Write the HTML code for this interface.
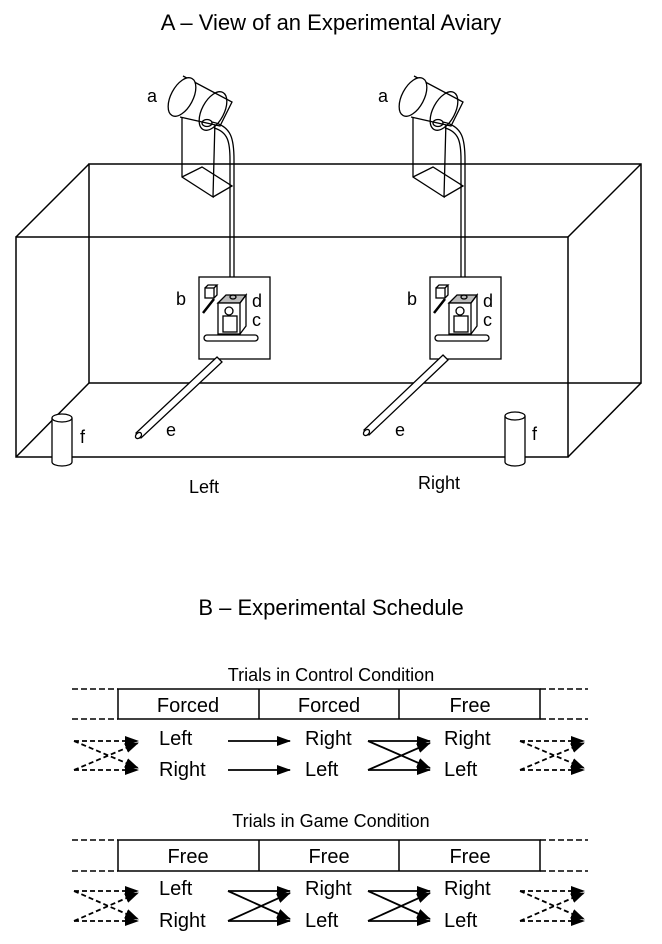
<!DOCTYPE html>
<html><head><meta charset="utf-8"><style>body{margin:0;background:#fff}svg{display:block}text{font-family:"Liberation Sans",sans-serif;fill:#000}</style></head><body>
<svg width="662" height="944" viewBox="0 0 662 944" xmlns="http://www.w3.org/2000/svg">
<defs>
<marker id="ah" markerWidth="14" markerHeight="10" refX="13" refY="5" orient="auto" markerUnits="userSpaceOnUse"><path d="M0,0 L14,5 L0,10 Z" fill="#000"/></marker>
<g id="feeder" fill="none" stroke="#000" stroke-width="1.3">
<path d="M182,117 L182,177 L213,197 L215,120"/>
<path d="M182,177 L202,167 L232,186 L213,197"/>
<path d="M183,76 L232,102 L220,126 L180,117" fill="#fff"/>
<ellipse cx="182" cy="97" rx="11" ry="21" transform="rotate(28 182 97)" fill="#fff"/>
<ellipse cx="213" cy="111" rx="11" ry="21" transform="rotate(28 213 111)"/>
<path d="M212,122 C232,126 234,140 234,160 L234,297"/>
<path d="M214,128 C228,132 230,142 230,160 L230,297"/>
<ellipse cx="207" cy="123" rx="5" ry="3.5"/>
<rect x="199" y="277" width="71" height="82" fill="#fff"/>
<path d="M218,303 L226,295 L246,295 L240,303 Z" fill="#bbb"/>
<path d="M240,303 L246,295 L246,326 L240,334"/>
<rect x="218" y="303" width="22" height="31" fill="#fff"/>
<circle cx="229" cy="311" r="4"/>
<rect x="223" y="316" width="14" height="16"/>
<ellipse cx="233" cy="297" rx="3" ry="2"/>
<rect x="204" y="335" width="54" height="6" rx="3" fill="#fff"/>
<rect x="205" y="288" width="9" height="10"/>
<path d="M205,288 L208,285 L217,285 L214,288 M214,298 L217,295 L217,285"/>
<line x1="214" y1="299" x2="203" y2="313" stroke-width="2.5"/>
</g>
</defs>
<text x="331" y="30" font-size="22" text-anchor="middle">A – View of an Experimental Aviary</text>
<g fill="none" stroke="#000" stroke-width="1.5">
<rect x="89" y="164" width="552" height="219"/>
<rect x="16" y="237" width="552" height="220"/>
<line x1="16" y1="237" x2="89" y2="164"/><line x1="568" y1="237" x2="641" y2="164"/>
<line x1="16" y1="457" x2="89" y2="383"/><line x1="568" y1="457" x2="641" y2="383"/>
</g>
<use href="#feeder"/>
<use href="#feeder" transform="translate(231,0)"/>
<g fill="#fff" stroke="#000" stroke-width="1.3">
<path d="M217,357 L222,362 L141,438 L136,433 Z"/>
<ellipse cx="138.5" cy="435.5" rx="3.5" ry="2.5" transform="rotate(-45 138.5 435.5)"/>
<path d="M443,355 L448,360 L369,435 L364,430 Z"/>
<ellipse cx="366.5" cy="432.5" rx="3.5" ry="2.5" transform="rotate(-45 366.5 432.5)"/>
<path d="M52,418 L52,462 A10,4 0 0 0 72,462 L72,418"/>
<ellipse cx="62" cy="418" rx="10" ry="4"/>
<path d="M505,416 L505,462 A10,4 0 0 0 525,462 L525,416"/>
<ellipse cx="515" cy="416" rx="10" ry="4"/>
</g>
<g font-size="18">
<text x="147" y="102">a</text><text x="378" y="102">a</text>
<text x="176" y="305">b</text><text x="407" y="305">b</text>
<text x="252" y="307">d</text><text x="483" y="307">d</text>
<text x="252" y="326">c</text><text x="483" y="326">c</text>
<text x="166" y="436">e</text><text x="395" y="436">e</text>
<text x="80" y="443">f</text><text x="532" y="440">f</text>
<text x="189" y="493">Left</text><text x="418" y="489">Right</text>
</g>
<text x="331" y="615" font-size="22" text-anchor="middle">B – Experimental Schedule</text>

<text x="331" y="681" font-size="18" text-anchor="middle">Trials in Control Condition</text>
<g fill="none" stroke="#000" stroke-width="1.5">
<rect x="118" y="689" width="422" height="30"/>
<line x1="259" y1="689" x2="259" y2="719"/><line x1="399" y1="689" x2="399" y2="719"/>
<g stroke-dasharray="6,3"><line x1="72" y1="689" x2="118" y2="689"/><line x1="72" y1="719" x2="118" y2="719"/><line x1="540" y1="689" x2="588" y2="689"/><line x1="540" y1="719" x2="588" y2="719"/></g>
</g>
<g font-size="20" text-anchor="middle"><text x="188" y="712">Forced</text><text x="329" y="712">Forced</text><text x="470" y="712">Free</text></g>
<g font-size="20">
<text x="159" y="745">Left</text><text x="159" y="776">Right</text>
<text x="305" y="745">Right</text><text x="305" y="776">Left</text>
<text x="444" y="745">Right</text><text x="444" y="776">Left</text>
</g>
<g stroke="#000" stroke-width="1.8" fill="none">
<line x1="228" y1="741" x2="290" y2="741" marker-end="url(#ah)"/>
<line x1="228" y1="770" x2="290" y2="770" marker-end="url(#ah)"/>
<line x1="368" y1="741" x2="430" y2="741" marker-end="url(#ah)"/>
<line x1="368" y1="770" x2="430" y2="770" marker-end="url(#ah)"/>
<line x1="368" y1="741" x2="430" y2="768" marker-end="url(#ah)"/>
<line x1="368" y1="770" x2="430" y2="743" marker-end="url(#ah)"/>
<g stroke-dasharray="5,3">
<line x1="74" y1="741" x2="138" y2="741" marker-end="url(#ah)"/><line x1="74" y1="770" x2="138" y2="770" marker-end="url(#ah)"/>
<line x1="74" y1="741" x2="138" y2="768" marker-end="url(#ah)"/><line x1="74" y1="770" x2="138" y2="743" marker-end="url(#ah)"/>
<line x1="520" y1="741" x2="584" y2="741" marker-end="url(#ah)"/><line x1="520" y1="770" x2="584" y2="770" marker-end="url(#ah)"/>
<line x1="520" y1="741" x2="584" y2="768" marker-end="url(#ah)"/><line x1="520" y1="770" x2="584" y2="743" marker-end="url(#ah)"/>
</g></g>

<text x="331" y="827" font-size="18" text-anchor="middle">Trials in Game Condition</text>
<g fill="none" stroke="#000" stroke-width="1.5">
<rect x="118" y="840" width="422" height="31"/>
<line x1="259" y1="840" x2="259" y2="871"/><line x1="399" y1="840" x2="399" y2="871"/>
<g stroke-dasharray="6,3"><line x1="72" y1="840" x2="118" y2="840"/><line x1="72" y1="871" x2="118" y2="871"/><line x1="540" y1="840" x2="588" y2="840"/><line x1="540" y1="871" x2="588" y2="871"/></g>
</g>
<g font-size="20" text-anchor="middle"><text x="188" y="863">Free</text><text x="329" y="863">Free</text><text x="470" y="863">Free</text></g>
<g font-size="20">
<text x="159" y="895">Left</text><text x="159" y="927">Right</text>
<text x="305" y="895">Right</text><text x="305" y="927">Left</text>
<text x="444" y="895">Right</text><text x="444" y="927">Left</text>
</g>
<g stroke="#000" stroke-width="1.8" fill="none">
<line x1="228" y1="891" x2="290" y2="891" marker-end="url(#ah)"/>
<line x1="228" y1="921" x2="290" y2="921" marker-end="url(#ah)"/>
<line x1="228" y1="891" x2="290" y2="919" marker-end="url(#ah)"/>
<line x1="228" y1="921" x2="290" y2="893" marker-end="url(#ah)"/>
<line x1="368" y1="891" x2="430" y2="891" marker-end="url(#ah)"/>
<line x1="368" y1="921" x2="430" y2="921" marker-end="url(#ah)"/>
<line x1="368" y1="891" x2="430" y2="919" marker-end="url(#ah)"/>
<line x1="368" y1="921" x2="430" y2="893" marker-end="url(#ah)"/>
<g stroke-dasharray="5,3">
<line x1="74" y1="891" x2="138" y2="891" marker-end="url(#ah)"/><line x1="74" y1="921" x2="138" y2="921" marker-end="url(#ah)"/>
<line x1="74" y1="891" x2="138" y2="919" marker-end="url(#ah)"/><line x1="74" y1="921" x2="138" y2="893" marker-end="url(#ah)"/>
<line x1="520" y1="891" x2="584" y2="891" marker-end="url(#ah)"/><line x1="520" y1="921" x2="584" y2="921" marker-end="url(#ah)"/>
<line x1="520" y1="891" x2="584" y2="919" marker-end="url(#ah)"/><line x1="520" y1="921" x2="584" y2="893" marker-end="url(#ah)"/>
</g></g>
</svg>
</body></html>
